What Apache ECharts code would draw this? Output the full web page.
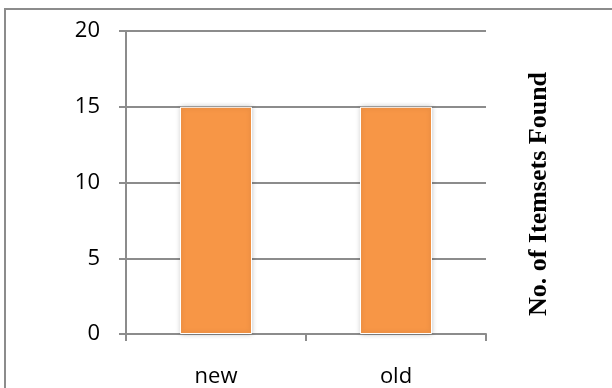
<!DOCTYPE html>
<html>
<head>
<meta charset="utf-8">
<script src="https://cdn.jsdelivr.net/npm/echarts@6/dist/echarts.min.js"></script>
<style>
html,body{margin:0;padding:0;background:#fff;}
#chart{width:612px;height:388px;}
</style>
</head>
<body>
<div id="chart"></div>
<script>
var categories = ['new', 'old'];
var itemsetsFound = [15, 15];
var yTicks = [0, 5, 10, 15, 20];
var axisTitle = 'No. of Itemsets Found';

var chart = echarts.init(document.getElementById('chart'), null, {renderer: 'canvas'});
var gray = '#8c8c8c';
chart.setOption({
  animation: false,
  backgroundColor: '#ffffff',
  grid: {left: 126, right: 126, top: 31, bottom: 52, containLabel: false},
  xAxis: {
    type: 'category',
    data: categories,
    axisLine: {show: true, lineStyle: {color: gray, width: 2}},
    axisTick: {show: true, length: 7, lineStyle: {color: gray, width: 2}},
    axisLabel: {color: '#000', fontFamily: 'Open Sans', fontSize: 22, margin: 32}
  },
  yAxis: {
    type: 'value',
    min: yTicks[0],
    max: yTicks[yTicks.length - 1],
    interval: yTicks[1] - yTicks[0],
    axisLine: {show: true, lineStyle: {color: gray, width: 2}},
    axisTick: {show: true, length: 7, lineStyle: {color: gray, width: 2}},
    axisLabel: {color: '#000', fontFamily: 'Open Sans', fontSize: 22, margin: 26},
    splitLine: {show: true, lineStyle: {color: gray, width: 2}}
  },
  series: [{
    type: 'bar',
    data: itemsetsFound,
    barWidth: 72,
    itemStyle: {
      color: '#F79646',
      borderColor: '#ffffff',
      borderWidth: 1,
      shadowBlur: 5,
      shadowColor: 'rgba(0,0,0,0.22)',
      shadowOffsetX: 0,
      shadowOffsetY: 0
    }
  }],
  graphic: [
    {
      type: 'polyline',
      silent: true,
      shape: {points: [[5, 400], [5, 9], [620, 9]]},
      style: {stroke: gray, lineWidth: 2, fill: null}
    },
    {
      type: 'text',
      silent: true,
      x: 539,
      y: 194,
      rotation: Math.PI / 2,
      style: {
        text: axisTitle,
        fill: '#000',
        font: 'bold 26px "Liberation Serif", "Times New Roman", serif',
        textAlign: 'center',
        textVerticalAlign: 'middle'
      }
    }
  ]
});
</script>
</body>
</html>
